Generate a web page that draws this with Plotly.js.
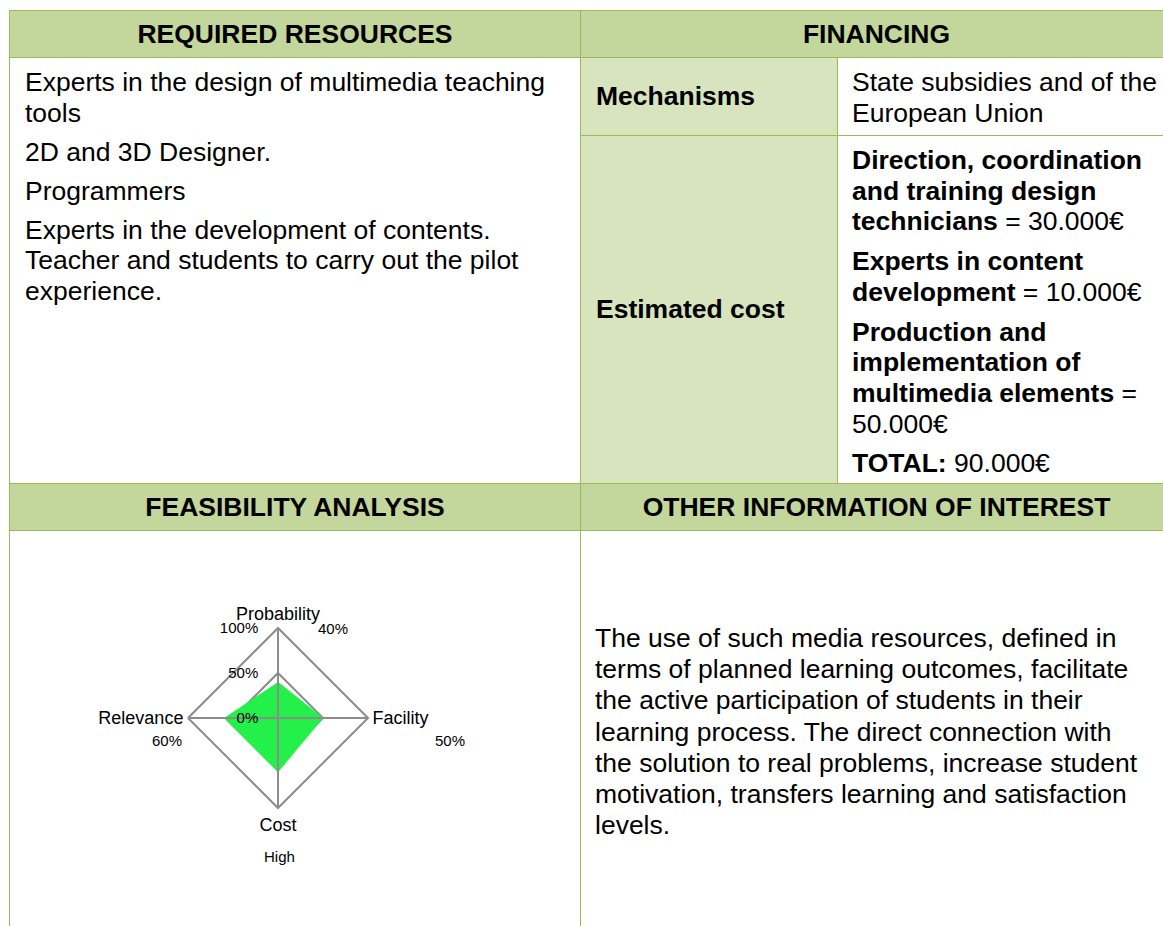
<!DOCTYPE html>
<html>
<head>
<meta charset="utf-8">
<script src="https://cdn.plot.ly/plotly-3.0.1.min.js"></script>
<style>
html,body{margin:0;padding:0;width:1163px;height:926px;overflow:hidden;background:#fff;}
body{position:relative;font-family:"Liberation Sans",Arial,sans-serif;color:#000;}
.c{position:absolute;box-sizing:border-box;}
.hd{background:#C3D69B;display:flex;align-items:center;justify-content:center;font-weight:bold;font-size:26.5px;}
.lt{background:#D7E4BD;}
.txt{font-size:26.5px;line-height:30.7px;}
.txt p{margin:0 0 9px 0;white-space:nowrap;}
.mid{display:flex;align-items:center;font-weight:bold;font-size:26.5px;padding-left:15px;}
.ln{position:absolute;background:#9BBB59;}
</style>
</head>
<body>
<!-- cell backgrounds -->
<div class="c hd" style="left:10px;top:11px;width:570px;height:46px;">REQUIRED RESOURCES</div>
<div class="c hd" style="left:581px;top:11px;width:591px;height:46px;">FINANCING</div>
<div class="c lt mid" style="left:581px;top:58px;width:256px;height:77px;">Mechanisms</div>
<div class="c lt mid" style="left:581px;top:136px;width:256px;height:347px;">Estimated cost</div>
<div class="c hd" style="left:10px;top:484px;width:570px;height:46px;">FEASIBILITY ANALYSIS</div>
<div class="c hd" style="left:581px;top:484px;width:591px;height:46px;">OTHER INFORMATION OF INTEREST</div>

<!-- texts -->
<div class="c txt" style="left:25px;top:67px;">
<p style="margin-bottom:8.3px">Experts in the design of multimedia teaching<br>tools</p>
<p style="margin-bottom:8.3px">2D and 3D Designer.</p>
<p style="margin-bottom:8.3px">Programmers</p>
<p>Experts in the development of contents.<br>Teacher and students to carry out the pilot<br>experience.</p>
</div>
<div class="c txt" style="left:852px;top:67px;">
<p>State subsidies and of the<br>European Union</p>
</div>
<div class="c txt" style="left:852px;top:145px;">
<p><b>Direction, coordination<br>and training design<br>technicians</b> = 30.000€</p>
<p><b>Experts in content<br>development</b> = 10.000€</p>
<p><b>Production and<br>implementation of<br>multimedia elements</b> =<br>50.000€</p>
<p><b>TOTAL:</b> 90.000€</p>
</div>
<div class="c txt" style="left:595px;top:623px;line-height:31.2px;">
<p>The use of such media resources, defined in<br>terms of planned learning outcomes, facilitate<br>the active participation of students in their<br>learning process. The direct connection with<br>the solution to real problems, increase student<br>motivation, transfers learning and satisfaction<br>levels.</p>
</div>

<!-- borders -->
<div class="ln" style="left:9px;top:10px;width:1163px;height:1px;"></div>
<div class="ln" style="left:9px;top:57px;width:1163px;height:1px;"></div>
<div class="ln" style="left:580px;top:135px;width:592px;height:1px;"></div>
<div class="ln" style="left:9px;top:483px;width:1163px;height:1px;"></div>
<div class="ln" style="left:9px;top:530px;width:1163px;height:1px;"></div>
<div class="ln" style="left:9px;top:10px;width:1px;height:920px;"></div>
<div class="ln" style="left:580px;top:10px;width:1px;height:920px;"></div>
<div class="ln" style="left:837px;top:57px;width:1px;height:426px;"></div>

<div id="radar" style="position:absolute;left:10px;top:531px;width:569px;height:395px;"></div>

<script>
// ---- data ----
const categories = ['Probability', 'Facility', 'Cost', 'Relevance'];
const values = [40, 50, 60, 60];
const valueLabels = ['40%', '50%', 'High', '60%'];
const radialTickValues = [0, 50, 100];
const radialTickLabels = ['0%', '50%', '100%'];

// ---- layout helpers (positions, not data) ----
const FONT = '"Liberation Sans", Arial, sans-serif';
const GRID = '#8C8C8C';
const labelPositions = [[0.5677, 0.7519], [0.7733, 0.4684], [0.4745, 0.1772], [0.2759, 0.4684]];
const domain = {x: [0.3128, 0.6292], y: [0.2987, 0.7544]};

const fillTrace = {
  type: 'scatterpolar', subplot: 'polar',
  r: values, theta: categories,
  mode: 'lines', fill: 'toself', fillcolor: '#24F04A',
  line: {color: '#24F04A', width: 0.5},
  hoverinfo: 'skip', showlegend: false
};
const overlayTrace = {
  type: 'scatterpolar', subplot: 'polar2',
  r: values, theta: categories,
  mode: 'lines', line: {color: 'rgba(0,0,0,0)', width: 0},
  hoverinfo: 'skip', showlegend: false
};

const angularBase = {
  type: 'category', categoryorder: 'array', categoryarray: categories,
  rotation: 90, direction: 'clockwise'
};

const layout = {
  width: 569, height: 395,
  margin: {l: 0, r: 0, t: 0, b: 0},
  paper_bgcolor: 'rgba(0,0,0,0)',
  font: {family: FONT, color: '#000'},
  showlegend: false,
  polar: {
    domain: domain, bgcolor: 'rgba(0,0,0,0)', gridshape: 'linear',
    angularaxis: Object.assign({}, angularBase, {
      showgrid: false, showline: true, linecolor: GRID, linewidth: 2,
      ticks: '', tickfont: {family: FONT, size: 18, color: '#000'}
    }),
    radialaxis: {
      range: [0, 100], angle: 90,
      tickmode: 'array', tickvals: radialTickValues,
      showline: false, showgrid: true, gridcolor: GRID, gridwidth: 2,
      showticklabels: false, ticks: ''
    }
  },
  polar2: {
    domain: domain, bgcolor: 'rgba(0,0,0,0)', gridshape: 'linear',
    angularaxis: Object.assign({}, angularBase, {
      showgrid: true, gridcolor: GRID, gridwidth: 2,
      showline: false, showticklabels: false, ticks: ''
    }),
    radialaxis: {
      range: [0, 100], angle: 90, side: 'counterclockwise', tickangle: 90,
      tickmode: 'array', tickvals: radialTickValues, ticktext: radialTickLabels,
      showline: false, showgrid: false,
      ticks: 'outside', ticklen: 14, tickcolor: 'rgba(0,0,0,0)',
      tickfont: {family: FONT, size: 15, color: '#000'}
    }
  },
  annotations: valueLabels.map((t, i) => ({
    text: t, xref: 'paper', yref: 'paper',
    x: labelPositions[i][0], y: labelPositions[i][1],
    xanchor: 'center', yanchor: 'middle', showarrow: false,
    font: {family: FONT, size: 15, color: '#000'}
  }))
};

Plotly.newPlot('radar', [fillTrace, overlayTrace], layout, {staticPlot: true, displayModeBar: false});
</script>
</body>
</html>
